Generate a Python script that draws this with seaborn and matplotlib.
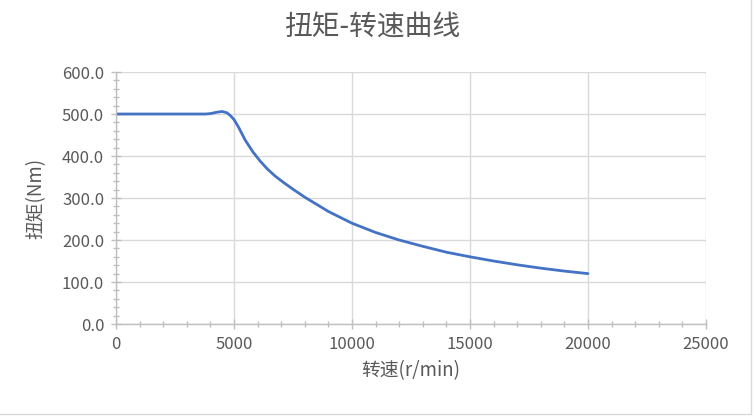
import numpy as np
import pandas as pd
import matplotlib
matplotlib.use("Agg")
import matplotlib.pyplot as plt
from matplotlib.ticker import MultipleLocator, FormatStrFormatter
from matplotlib.patches import Rectangle
import seaborn as sns

# values
speed = [0, 1000, 2000, 3000, 3800, 4000, 4250, 4500, 4700, 4850, 5000, 5200,
         5475, 5800, 6110, 6400, 6750, 7100, 7500, 8000, 9000, 10000, 11000,
         12000, 13000, 14000, 15000, 16000, 17000, 18000, 19000, 20000]
torque = [500, 500, 500, 500, 500, 501, 504, 506, 503, 496, 487, 468,
          438, 410, 388, 370, 352, 337, 321, 302, 268, 240, 218,
          200, 185, 171, 160, 150, 141, 133, 126, 120]

title = "扭矩-转速曲线"
xlabel = "转速(r/min)"
ylabel = "扭矩(Nm)"

sns.set_style("white")
plt.rcParams['font.family'] = ['Noto Sans CJK SC', 'DejaVu Sans']

df = pd.DataFrame({"speed": speed, "torque": torque})

fig = plt.figure(figsize=(7.55, 4.17), dpi=100)
ax = fig.add_axes([0.1536, 0.223, 0.935 - 0.1536, 0.8273 - 0.223])

sns.lineplot(data=df, x="speed", y="torque", ax=ax, color="#4472C4", linewidth=2.0)

ax.set_xlim(0, 25000)
ax.set_ylim(0, 600)
ax.xaxis.set_major_locator(MultipleLocator(5000))
ax.xaxis.set_minor_locator(MultipleLocator(1000))
ax.yaxis.set_major_locator(MultipleLocator(100))
ax.yaxis.set_minor_locator(MultipleLocator(20))
ax.yaxis.set_major_formatter(FormatStrFormatter('%.1f'))

ax.grid(True, which='major', color='#d9d9d9', linewidth=1.0)
ax.set_axisbelow(True)
for side in ['top', 'right']:
    ax.spines[side].set_visible(False)
for side in ['left', 'bottom']:
    ax.spines[side].set_color('#bfbfbf')
    ax.spines[side].set_linewidth(1.0)

ax.tick_params(which='both', direction='inout', color='#bfbfbf', labelcolor='#595959',
               labelsize=12)
ax.tick_params(which='major', length=7, width=1.0)
ax.tick_params(which='minor', length=5, width=1.0)
ax.tick_params(axis='x', which='major', pad=5)
ax.tick_params(axis='y', which='major', pad=5)
ax.tick_params(axis='x', which='both', bottom=True)
ax.tick_params(axis='y', which='both', left=True)

ax.set_xlabel(xlabel, fontsize=13.5, color='#595959', labelpad=5)
ax.set_ylabel(ylabel, fontsize=13.5, color='#595959', labelpad=11)
fig.text(0.493, 0.933, title, ha='center', va='center', fontsize=20, color='#595959')

# thin chart-area border like the spreadsheet frame
fig.patches.append(Rectangle((-0.01, 0.008), 1.005, 1.1, transform=fig.transFigure,
                             fill=False, edgecolor='#d9d9d9', linewidth=1.0))

fig.savefig("out.png", dpi=100, facecolor='white')
